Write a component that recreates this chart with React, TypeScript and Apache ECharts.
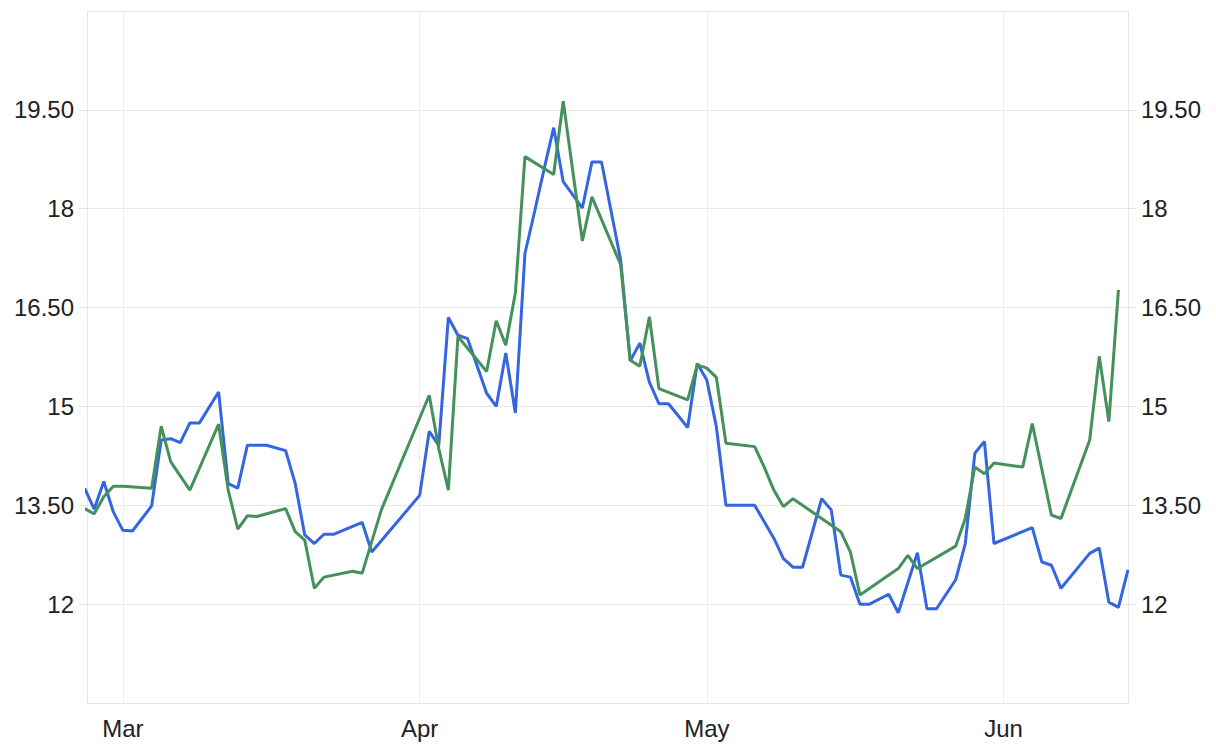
import React, { useEffect, useRef } from "react";
import * as echarts from "echarts";

const blueDates = [
  "2023-02-25", "2023-02-26", "2023-02-27", "2023-02-28", "2023-03-01", "2023-03-02",
  "2023-03-04", "2023-03-05", "2023-03-06", "2023-03-07", "2023-03-08", "2023-03-09",
  "2023-03-11", "2023-03-12", "2023-03-13", "2023-03-14", "2023-03-16", "2023-03-18",
  "2023-03-19", "2023-03-20", "2023-03-21", "2023-03-22", "2023-03-23", "2023-03-26",
  "2023-03-27", "2023-04-01", "2023-04-02", "2023-04-03", "2023-04-04", "2023-04-05",
  "2023-04-06", "2023-04-08", "2023-04-09", "2023-04-10", "2023-04-11", "2023-04-12",
  "2023-04-13", "2023-04-14", "2023-04-15", "2023-04-16", "2023-04-18", "2023-04-19",
  "2023-04-20", "2023-04-22", "2023-04-23", "2023-04-24", "2023-04-25", "2023-04-26",
  "2023-04-27", "2023-04-29", "2023-04-30", "2023-05-01", "2023-05-02", "2023-05-03",
  "2023-05-06", "2023-05-07", "2023-05-08", "2023-05-09", "2023-05-10", "2023-05-11",
  "2023-05-13", "2023-05-14", "2023-05-15", "2023-05-16", "2023-05-17", "2023-05-18",
  "2023-05-20", "2023-05-21", "2023-05-23", "2023-05-24", "2023-05-25", "2023-05-27",
  "2023-05-28", "2023-05-29", "2023-05-30", "2023-05-31", "2023-06-04", "2023-06-05",
  "2023-06-06", "2023-06-07", "2023-06-10", "2023-06-11", "2023-06-12", "2023-06-13",
  "2023-06-14",
];
const blueValues = [
  13.76, 13.44, 13.86, 13.4, 13.12, 13.11,
  13.49, 14.49, 14.51, 14.45, 14.75, 14.75,
  15.22, 13.83, 13.76, 14.41, 14.41, 14.33,
  13.83, 13.05, 12.92, 13.06, 13.06, 13.24,
  12.79, 13.65, 14.62, 14.41, 16.35, 16.08,
  16.03, 15.2, 15.0, 15.81, 14.9, 17.32,
  17.95, 18.6, 19.23, 18.41, 18.01, 18.71,
  18.71, 17.22, 15.69, 15.96, 15.37, 15.04,
  15.04, 14.68, 15.65, 15.4, 14.69, 13.5,
  13.5, 13.25, 13.0, 12.69, 12.56, 12.56,
  13.6, 13.43, 12.44, 12.41, 12.0, 12.0,
  12.15, 11.87, 12.78, 11.93, 11.93, 12.37,
  12.92, 14.29, 14.47, 12.92, 13.16, 12.64,
  12.59, 12.24, 12.77, 12.85, 12.03, 11.95,
  12.52,
];

const greenDates = [
  "2023-02-25", "2023-02-26", "2023-02-27", "2023-02-28", "2023-03-01", "2023-03-04",
  "2023-03-05", "2023-03-06", "2023-03-08", "2023-03-11", "2023-03-12", "2023-03-13",
  "2023-03-14", "2023-03-15", "2023-03-18", "2023-03-19", "2023-03-20", "2023-03-21",
  "2023-03-22", "2023-03-25", "2023-03-26", "2023-03-28", "2023-04-02", "2023-04-03",
  "2023-04-04", "2023-04-05", "2023-04-08", "2023-04-09", "2023-04-10", "2023-04-11",
  "2023-04-12", "2023-04-15", "2023-04-16", "2023-04-18", "2023-04-19", "2023-04-22",
  "2023-04-23", "2023-04-24", "2023-04-25", "2023-04-26", "2023-04-29", "2023-04-30",
  "2023-05-01", "2023-05-02", "2023-05-03", "2023-05-06", "2023-05-07", "2023-05-08",
  "2023-05-09", "2023-05-10", "2023-05-15", "2023-05-16", "2023-05-17", "2023-05-21",
  "2023-05-22", "2023-05-23", "2023-05-27", "2023-05-28", "2023-05-29", "2023-05-30",
  "2023-05-31", "2023-06-03", "2023-06-04", "2023-06-06", "2023-06-07", "2023-06-10",
  "2023-06-11", "2023-06-12", "2023-06-13",
];
const greenValues = [
  13.45, 13.37, 13.63, 13.79, 13.79, 13.76,
  14.7, 14.16, 13.73, 14.73, 13.73, 13.14,
  13.34, 13.33, 13.45, 13.1, 12.97, 12.24,
  12.41, 12.5, 12.47, 13.43, 15.17, 14.36,
  13.73, 16.06, 15.53, 16.3, 15.93, 16.72,
  18.79, 18.52, 19.63, 17.51, 18.18, 17.15,
  15.7, 15.61, 16.36, 15.27, 15.1, 15.63,
  15.58, 15.44, 14.44, 14.39, 14.08, 13.73,
  13.48, 13.6, 13.1, 12.79, 12.14, 12.54,
  12.74, 12.54, 12.88, 13.3, 14.08, 13.98,
  14.14, 14.08, 14.74, 13.35, 13.3, 14.49,
  15.76, 14.77, 16.77,
];

const yMin = 10.5;
const yMax = 21;
const yStep = 1.5;
const xStart = "2023-02-25T06:00:00";
const xEnd = "2023-06-14T00:00:00";

const DAY = 86400000;

const fmtY = (v: number) => (Number.isInteger(v) ? String(v) : v.toFixed(2));

export default function App() {
  const ref = useRef<HTMLDivElement>(null);
  useEffect(() => {
    if (!ref.current) return;
    const chart = echarts.init(ref.current, null, { renderer: "svg" });
    const labelStyle = {
      color: "#222",
      fontSize: 24,
      fontFamily: "Liberation Sans, Arial, sans-serif",
    };
    const yAxisBase = {
      type: "value" as const,
      min: yMin,
      max: yMax,
      interval: yStep,
      axisLine: { show: true, lineStyle: { color: "#e6e6e6", width: 1 } },
      axisTick: { show: true, length: 8, lineStyle: { color: "#e2e2e2" } },
    };
    chart.setOption({
      animation: false,
      backgroundColor: "#ffffff",
      grid: { left: 87, right: 88, top: 11, bottom: 44, containLabel: false },
      xAxis: {
        type: "time",
        min: xStart,
        max: xEnd,
        splitNumber: 3,
        minInterval: 28 * DAY,
        axisLine: { show: true, lineStyle: { color: "#e6e6e6" } },
        axisTick: { show: false },
        splitLine: { show: true, lineStyle: { color: "#eaf0f0", width: 1 } },
        axisLabel: {
          ...labelStyle,
          margin: 13,
          formatter: "{MMM}",
          showMinLabel: false,
          showMaxLabel: false,
          hideOverlap: false,
        },
      },
      yAxis: [
        {
          ...yAxisBase,
          position: "left",
          splitLine: { show: true, lineStyle: { color: "#e8e8e8", width: 1 } },
          axisLabel: {
            ...labelStyle,
            margin: 13,
            formatter: fmtY,
            showMinLabel: false,
            showMaxLabel: false,
          },
        },
        {
          ...yAxisBase,
          position: "right",
          splitLine: { show: false },
          axisLabel: {
            ...labelStyle,
            margin: 13,
            formatter: fmtY,
            showMinLabel: false,
            showMaxLabel: false,
          },
        },
      ],
      series: [
        {
          name: "Blue",
          type: "line",
          yAxisIndex: 0,
          showSymbol: false,
          data: blueDates.map((d, i) => [d, blueValues[i]]),
          lineStyle: { color: "#3366E0", width: 3 },
          itemStyle: { color: "#3366E0" },
        },
        {
          name: "Green",
          type: "line",
          yAxisIndex: 0,
          showSymbol: false,
          data: greenDates.map((d, i) => [d, greenValues[i]]),
          lineStyle: { color: "#45915C", width: 3 },
          itemStyle: { color: "#45915C" },
        },
      ],
    });
    return () => chart.dispose();
  }, []);
  return (
    <div
      ref={ref}
      style={{ position: "fixed", left: 0, top: 0, width: 1216, height: 747 }}
    />
  );
}
